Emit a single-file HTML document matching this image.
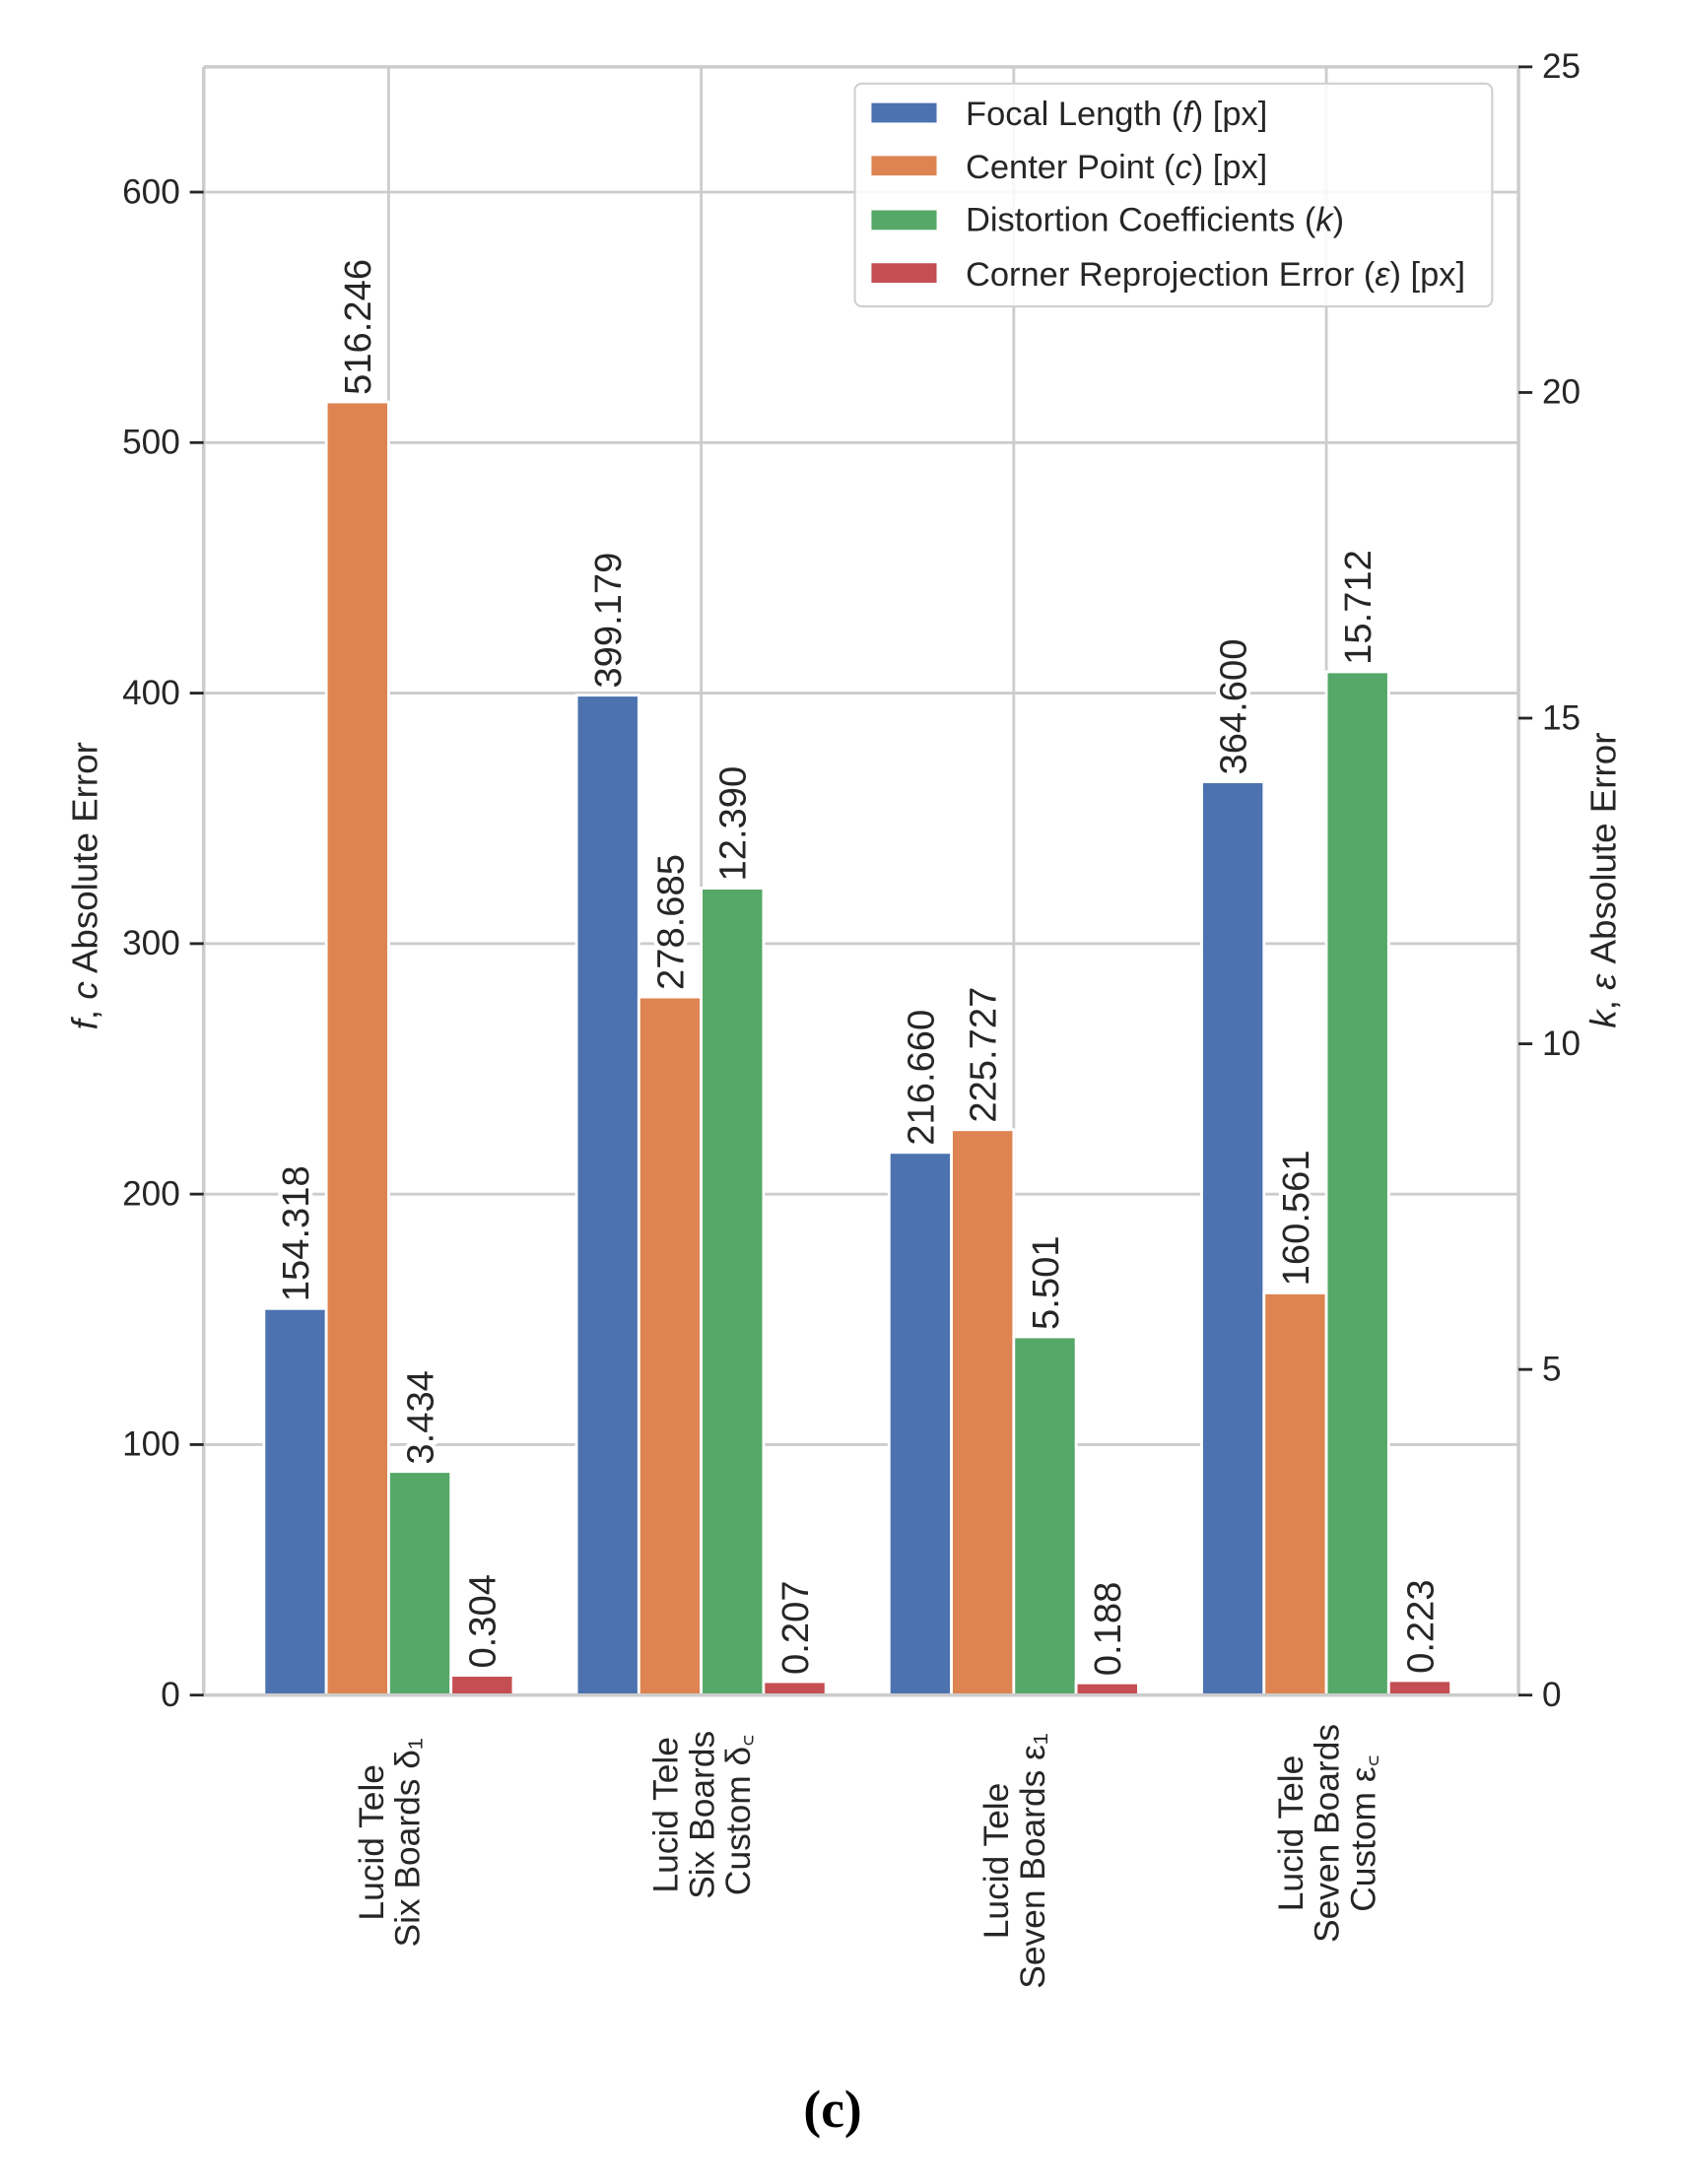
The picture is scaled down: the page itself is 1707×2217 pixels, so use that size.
<!DOCTYPE html>
<html><head><meta charset="utf-8"><style>
html,body{margin:0;padding:0;background:#fff;}
svg{display:block;}
text{font-family:"Liberation Sans","DejaVu Sans",sans-serif;fill:#262626;}
</style></head><body>
<svg id="chart" width="1707" height="2217" viewBox="0 0 1214 1568" preserveAspectRatio="none" xmlns="http://www.w3.org/2000/svg">
<g id="grid"></g>
<g id="bars"></g>
<g id="spines"></g>
<g id="ticks"></g>
<g id="labels"></g>
<g id="xcats"></g>
<text transform="translate(70,636) rotate(-90)" text-anchor="middle" font-size="26"><tspan font-style="italic">f</tspan>, <tspan font-style="italic">c</tspan> Absolute Error</text>
<text transform="translate(1166,632) rotate(-90)" text-anchor="middle" font-size="26"><tspan font-style="italic">k</tspan>, <tspan font-style="italic">ε</tspan> Absolute Error</text>
<g>
<rect x="617" y="60" width="460" height="160" rx="5" fill="#fff" fill-opacity="0.85" stroke="#d0d0d0" stroke-width="1.5"/>
<rect x="629" y="74" width="47" height="14" fill="#4c72b0"/>
<text x="697" y="90" font-size="24.5">Focal Length (<tspan font-style="italic">f</tspan>) [px]</text>
<rect x="629" y="112" width="47" height="14" fill="#dd8452"/>
<text x="697" y="128" font-size="24.5">Center Point (<tspan font-style="italic">c</tspan>) [px]</text>
<rect x="629" y="151" width="47" height="14" fill="#55a868"/>
<text x="697" y="166" font-size="24.5">Distortion Coefficients (<tspan font-style="italic">k</tspan>)</text>
<rect x="629" y="189" width="47" height="14" fill="#c44e52"/>
<text x="697" y="205" font-size="24.5">Corner Reprojection Error (<tspan font-style="italic">ε</tspan>) [px]</text>
</g>
<text x="601" y="1527" text-anchor="middle" font-size="38" font-weight="bold" style="font-family:'Liberation Serif',serif;fill:#000">(c)</text>
</svg>
<script>
const categories = [["Lucid Tele","Six Boards δ₁"],["Lucid Tele","Six Boards","Custom δ꜀"],["Lucid Tele","Seven Boards ε₁"],["Lucid Tele","Seven Boards","Custom ε꜀"]];
const focalLength = [154.318, 399.179, 216.660, 364.600];
const centerPoint = [516.246, 278.685, 225.727, 160.561];
const distortion = [3.434, 12.390, 5.501, 15.712];
const reprojection = [0.304, 0.207, 0.188, 0.223];
const leftTicks = [0,100,200,300,400,500,600];
const rightTicks = [0,5,10,15,20,25];
const leftMax = 650, rightMax = 25;

const NS = "http://www.w3.org/2000/svg";
const X0 = 147, X1 = 1096, Y0 = 1217, Y1 = 48;
const yL = v => Y0 - v/leftMax*(Y0-Y1);
const yR = v => Y0 - v/rightMax*(Y0-Y1);
const xC = i => 280.5 + i*225.6;
function mk(tag, attrs, parent){const e=document.createElementNS(NS,tag);for(const k in attrs)e.setAttribute(k,attrs[k]);parent.appendChild(e);return e;}
const grid=document.getElementById('grid'), bars=document.getElementById('bars'), spines=document.getElementById('spines'), ticks=document.getElementById('ticks'), labels=document.getElementById('labels'), xcats=document.getElementById('xcats');

leftTicks.forEach(t=>{
  const l=mk('line',{x1:X0,x2:X1,y1:yL(t),y2:yL(t),stroke:'#cccccc','stroke-width':2},grid);
  
  
  const tk=mk('line',{x1:X0-10,x2:X0,y1:yL(t),y2:yL(t),stroke:'#262626','stroke-width':2},ticks);
  
  
  const tx=mk('text',{x:X0-17,y:yL(t)+8,'text-anchor':'end','font-size':25},ticks);
  tx.textContent=t;
  
  
});
rightTicks.forEach(t=>{
  const tk=mk('line',{x1:X1,x2:X1+10,y1:yR(t),y2:yR(t),stroke:'#262626','stroke-width':2},ticks);
  
  
  const tx=mk('text',{x:X1+17,y:yR(t)+8,'font-size':25},ticks);
  tx.textContent=t;
  
  
});
categories.forEach((c,i)=>{
  const l=mk('line',{x1:xC(i),x2:xC(i),y1:Y1,y2:Y0,stroke:'#cccccc','stroke-width':2},grid);
  
  
});
const series=[[focalLength,'#4c72b0',yL,'focal'],[centerPoint,'#dd8452',yL,'center'],[distortion,'#55a868',yR,'distortion'],[reprojection,'#c44e52',yR,'reprojection']];
const bw=45;
series.forEach((s,si)=>{
  s[0].forEach((v,i)=>{
    const cx=xC(i)+(si-1.5)*bw;
    const y=s[2](v);
    const r=mk('rect',{x:cx-bw/2,y:y,width:bw,height:Y0-y,fill:s[1],stroke:'#fff','stroke-width':2},bars);
    
    
    const t=mk('text',{transform:`translate(${cx+9.5},${y-5}) rotate(-90)`,'font-size':27,stroke:'#fff','stroke-width':6,'paint-order':'stroke'},labels);
    t.textContent=v.toFixed(3);
    
    
  });
});
[[X0,Y1,X0,Y0],[X1,Y1,X1,Y0],[X0,Y1,X1,Y1],[X0,Y0,X1,Y0]].forEach(a=>{
  const l=mk('line',{x1:a[0],y1:a[1],x2:a[2],y2:a[3],stroke:'#cccccc','stroke-width':2.5},spines);
  
  
});
categories.forEach((lines,i)=>{
  const n=lines.length, sp=26;
  const longest=Math.max(...lines.map(s=>s.length));
  const cy=1237+longest*13.2/2;
  lines.forEach((s,j)=>{
    const x=xC(i)+(j-(n-1)/2)*sp+9;
    const t=mk('text',{transform:`translate(${x},${cy}) rotate(-90)`,'font-size':25,'text-anchor':'middle'},xcats);
    t.textContent=s;
    
    
  });
});
</script>
</body></html>
